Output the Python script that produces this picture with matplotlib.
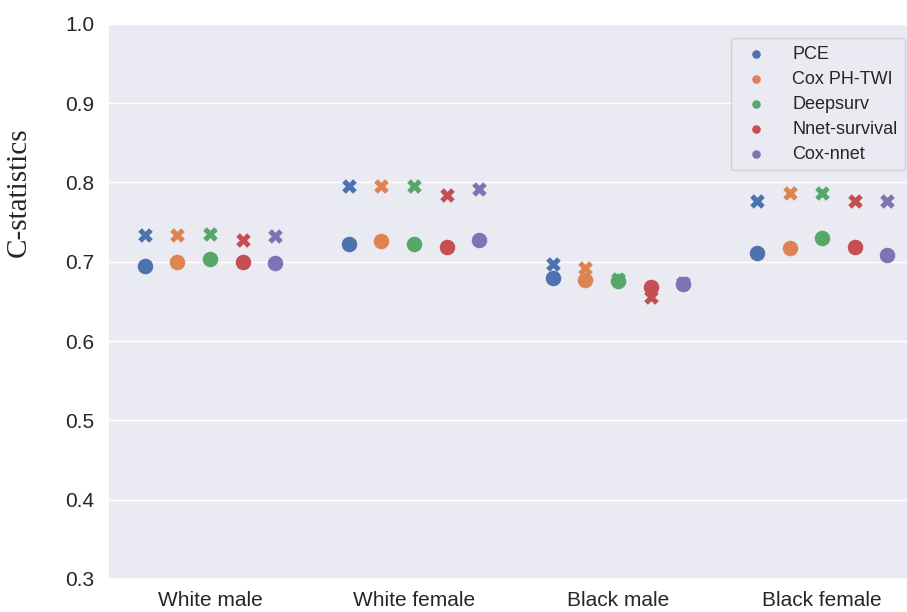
import numpy as np
import matplotlib
matplotlib.use("Agg")
import matplotlib.pyplot as plt
import seaborn as sns

# groups on the x axis and the five models (hue)
groups = ["White male", "White female", "Black male", "Black female"]
models = ["PCE", "Cox PH-TWI", "Deepsurv", "Nnet-survival", "Cox-nnet"]

# C-statistics drawn as circles, one list per model (order follows groups)
circle_vals = {
    "PCE":           [0.695, 0.723, 0.680, 0.711],
    "Cox PH-TWI":    [0.700, 0.726, 0.677, 0.717],
    "Deepsurv":      [0.703, 0.722, 0.676, 0.730],
    "Nnet-survival": [0.700, 0.719, 0.668, 0.718],
    "Cox-nnet":      [0.699, 0.728, 0.672, 0.709],
}

# C-statistics drawn as X markers
cross_vals = {
    "PCE":           [0.734, 0.795, 0.697, 0.777],
    "Cox PH-TWI":    [0.734, 0.796, 0.692, 0.787],
    "Deepsurv":      [0.735, 0.796, 0.678, 0.787],
    "Nnet-survival": [0.728, 0.784, 0.655, 0.776],
    "Cox-nnet":      [0.732, 0.792, 0.673, 0.777],
}

sns.set_theme(style="darkgrid")
plt.rcParams["font.family"] = ["Liberation Sans", "DejaVu Sans"]

colors = sns.color_palette("deep", len(models))

fig = plt.figure(figsize=(9.07, 6.12), dpi=100)
ax = fig.add_axes([0.119, 0.054, 0.9, 0.907])

x = np.arange(len(groups))
width = 0.8
step = width / len(models)
handles = []
for i, m in enumerate(models):
    off = -width / 2 + step / 2 + i * step
    h = ax.scatter(x + off, circle_vals[m], s=125, marker="o", color=colors[i],
                   linewidth=0, zorder=3, label=m)
    ax.scatter(x + off, cross_vals[m], s=110, marker="X", color=colors[i],
               linewidth=0, zorder=3)
    handles.append(h)

ax.set_xlim(-0.5, len(groups) - 0.5)
ax.set_ylim(0.3, 1.0)
ax.set_yticks(np.arange(0.3, 1.01, 0.1))
ax.set_xticks(x)
ax.set_xticklabels(groups)
ax.xaxis.grid(False)
ax.tick_params(axis="x", labelsize=15, pad=3)
ax.tick_params(axis="y", labelsize=15, pad=4)
ax.set_ylabel("C-statistics", fontsize=21, family=["Liberation Serif"])
# the label sits above the middle of the axis in the original
ax.yaxis.set_label_coords(-0.093, 0.697)

leg = ax.legend(handles=handles, loc="upper right", fontsize=13,
                bbox_to_anchor=(0.987, 0.99), markerscale=0.55,
                labelspacing=0.45, handletextpad=1.0)

fig.savefig("out.png", dpi=100)
